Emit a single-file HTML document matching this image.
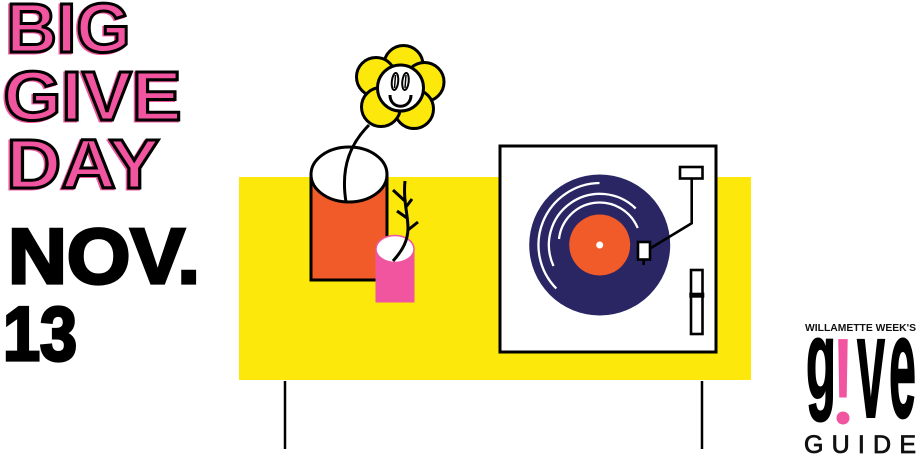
<!DOCTYPE html>
<html><head><meta charset="utf-8"><style>
html,body{margin:0;padding:0;background:#fff}
svg{display:block}
text{font-family:"Liberation Sans",sans-serif}
</style></head><body>
<svg width="917" height="455" viewBox="0 0 917 455" xmlns="http://www.w3.org/2000/svg">
<defs><clipPath id="c"><rect x="830" y="330" width="30" height="75"/></clipPath></defs>
<!-- headline -->
<g font-weight="700" font-size="70" fill="#F1559F" stroke="#F1559F" stroke-width="3">
<text x="5" y="53" textLength="124" lengthAdjust="spacingAndGlyphs">BIG</text>
<text x="2" y="121" textLength="178" lengthAdjust="spacingAndGlyphs">GIVE</text>
<text x="5" y="189" textLength="153" lengthAdjust="spacingAndGlyphs">DAY</text>
</g>
<g font-weight="700" font-size="70" fill="none" stroke="#000" stroke-width="3">
<text x="6.5" y="52" textLength="124" lengthAdjust="spacingAndGlyphs">BIG</text>
<text x="3.5" y="120" textLength="178" lengthAdjust="spacingAndGlyphs">GIVE</text>
<text x="6.5" y="188" textLength="153" lengthAdjust="spacingAndGlyphs">DAY</text>
</g>
<g font-weight="700" fill="#000" stroke="#000" stroke-width="3.2">
<text x="8" y="283" font-size="78" textLength="192" lengthAdjust="spacingAndGlyphs">NOV.</text>
<text x="3" y="360" font-size="76" textLength="74" lengthAdjust="spacingAndGlyphs">13</text>
</g>
<!-- table -->
<rect x="239" y="177" width="512" height="203" fill="#FCE80A"/>
<path d="M285 381V449M702 381V449" stroke="#000" stroke-width="2.5" fill="none"/>
<!-- orange vase -->
<path d="M311 175V280H387V175Z" fill="#F15A29" stroke="#000" stroke-width="3"/>
<ellipse cx="349" cy="174.5" rx="38" ry="27.5" fill="#fff" stroke="#000" stroke-width="3"/>
<!-- flower -->
<g fill="#FCE80A" stroke="#000" stroke-width="3">
<circle cx="403.5" cy="65" r="19.5"/>
<circle cx="376" cy="77" r="19.5"/>
<circle cx="424.5" cy="82" r="19.5"/>
<circle cx="414" cy="109" r="19.5"/>
<circle cx="381" cy="107" r="19.5"/>
<circle cx="400.5" cy="88" r="23" fill="#fff"/>
<g fill="#fff" stroke-width="2">
<ellipse cx="395" cy="81.5" rx="3.2" ry="8.5" transform="rotate(6 395 81.5)"/>
<ellipse cx="405.5" cy="81.5" rx="3.2" ry="8.5" transform="rotate(6 405.5 81.5)"/>
</g>
<path d="M395.5 75L394.5 88M406 75L405 88" fill="none" stroke-width="1.5"/>
<path d="M390 95C390 110 411 110 411 95" fill="none"/>
</g>
<path d="M369 125C352 142 340 165 346 202" fill="none" stroke="#000" stroke-width="3"/>
<!-- pink vase -->
<path d="M375.5 249H414.5V302.5H375.5Z" fill="#F1559F"/>
<ellipse cx="395" cy="249" rx="19" ry="13.5" fill="#fff" stroke="#F1559F" stroke-width="1.5"/>
<!-- twig -->
<path d="M393 261C403 250 408 240 408 228C408 215 403 200 405 181M418 222L408 230M397 211L407 218M393 190L406 202M412 199L406 207" fill="none" stroke="#000" stroke-width="3"/>
<!-- turntable -->
<rect x="500" y="146" width="216" height="206" fill="#fff" stroke="#000" stroke-width="3"/>
<circle cx="599.7" cy="245" r="70.5" fill="#2A2664"/>
<circle cx="599.7" cy="245" r="30.5" fill="#F15A29"/>
<circle cx="599.7" cy="245" r="3.5" fill="#fff"/>
<g fill="none" stroke="#fff" stroke-width="2.3">
<path d="M599.5 183A62 62 0 0 0 556.3 288.5"/>
<path d="M635.7 208.5A51 51 0 0 0 553.5 266"/>
<path d="M637.7 228A41 41 0 0 0 559 239"/>
</g>
<path d="M643.7 259V265M650 248.5L691.7 223.3V178.5" fill="none" stroke="#000" stroke-width="2.6"/>
<rect x="638" y="242" width="12" height="17.5" fill="#fff" stroke="#000" stroke-width="2.6"/>
<rect x="680" y="167" width="22.5" height="11.5" fill="#fff" stroke="#000" stroke-width="2.6"/>
<rect x="691" y="270" width="11.5" height="64" fill="#fff" stroke="#000" stroke-width="2.6"/>
<rect x="689.3" y="292.7" width="15" height="5" fill="#000"/>
<!-- logo -->
<text x="805" y="331" font-size="10.5" font-weight="700" fill="#111" textLength="111" lengthAdjust="spacingAndGlyphs">WILLAMETTE WEEK'S</text>
<g font-weight="700" fill="#000" stroke="#000" stroke-width="2">
<text x="806" y="398" font-size="110" textLength="30" lengthAdjust="spacingAndGlyphs">g</text>
<text x="857" y="417" font-size="146" textLength="28" lengthAdjust="spacingAndGlyphs">v</text>
<text x="889" y="417" font-size="146" textLength="27" lengthAdjust="spacingAndGlyphs">e</text>
</g>
<text x="832" y="423" font-size="122" font-weight="700" fill="#F1559F" textLength="22" lengthAdjust="spacingAndGlyphs" clip-path="url(#c)">!</text>
<circle cx="843" cy="418" r="6.5" fill="#F1559F"/>
<text x="804" y="453" font-size="25" fill="#111" stroke="#111" stroke-width=".8" textLength="112" lengthAdjust="spacing">GUIDE</text>
</svg>
</body></html>
